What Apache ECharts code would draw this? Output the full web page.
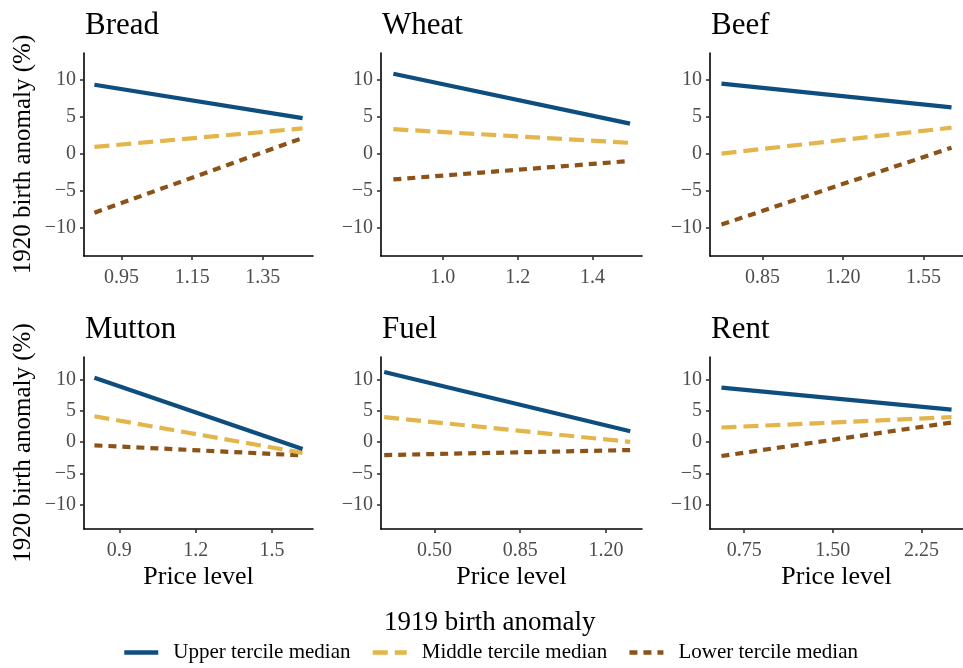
<!DOCTYPE html>
<html><head><meta charset="utf-8">
<script src="https://cdn.jsdelivr.net/npm/echarts@6/dist/echarts.min.js"></script>
<style>html,body{margin:0;padding:0;background:#fff}#c{width:963px;height:668px}</style>
</head><body><div id="c"></div>
<script>
// ---- data ----
const panelNames = ["Bread", "Wheat", "Beef", "Mutton", "Fuel", "Rent"];
const seriesNames = ["Upper tercile median", "Middle tercile median", "Lower tercile median"];

const priceBread = [0.873, 1.463];
const upperBread = [9.3, 4.8];
const middleBread = [0.9, 3.4];
const lowerBread = [-8.0, 2.1];

const priceWheat = [0.868, 1.500];
const upperWheat = [10.8, 4.05];
const middleWheat = [3.3, 1.45];
const lowerWheat = [-3.5, -1.0];

const priceBeef = [0.671, 1.672];
const upperBeef = [9.45, 6.25];
const middleBeef = [0.0, 3.5];
const lowerBeef = [-9.6, 0.8];

const priceMutton = [0.802, 1.62];
const upperMutton = [10.3, -1.1];
const middleMutton = [4.15, -1.7];
const lowerMutton = [-0.5, -2.1];

const priceFuel = [0.295, 1.299];
const upperFuel = [11.2, 1.75];
const middleFuel = [4.0, 0.05];
const lowerFuel = [-2.05, -1.25];

const priceRent = [0.558, 2.505];
const upperRent = [8.7, 5.2];
const middleRent = [2.35, 4.0];
const lowerRent = [-2.2, 3.15];

const xTicksBread = [0.95, 1.15, 1.35];   const xLabelsBread = ["0.95", "1.15", "1.35"];
const xTicksWheat = [1.0, 1.2, 1.4];      const xLabelsWheat = ["1.0", "1.2", "1.4"];
const xTicksBeef = [0.85, 1.20, 1.55];    const xLabelsBeef = ["0.85", "1.20", "1.55"];
const xTicksMutton = [0.9, 1.2, 1.5];     const xLabelsMutton = ["0.9", "1.2", "1.5"];
const xTicksFuel = [0.50, 0.85, 1.20];    const xLabelsFuel = ["0.50", "0.85", "1.20"];
const xTicksRent = [0.75, 1.50, 2.25];    const xLabelsRent = ["0.75", "1.50", "2.25"];

const yTicks = [-10, -5, 0, 5, 10];
const yTickLabels = ["\u221210", "\u22125", "0", "5", "10"];

const yAxisTitle = "1920 birth anomaly (%)";
const xAxisTitle = "Price level";
const legendTitle = "1919 birth anomaly";

// ---- layout / style ----
const panels = [
  {price: priceBread, vals: [upperBread, middleBread, lowerBread], ticks: xTicksBread, labels: xLabelsBread, range: [0.8435, 1.4925]},
  {price: priceWheat, vals: [upperWheat, middleWheat, lowerWheat], ticks: xTicksWheat, labels: xLabelsWheat, range: [0.835, 1.532]},
  {price: priceBeef, vals: [upperBeef, middleBeef, lowerBeef], ticks: xTicksBeef, labels: xLabelsBeef, range: [0.621, 1.722]},
  {price: priceMutton, vals: [upperMutton, middleMutton, lowerMutton], ticks: xTicksMutton, labels: xLabelsMutton, range: [0.761, 1.661]},
  {price: priceFuel, vals: [upperFuel, middleFuel, lowerFuel], ticks: xTicksFuel, labels: xLabelsFuel, range: [0.282, 1.347]},
  {price: priceRent, vals: [upperRent, middleRent, lowerRent], ticks: xTicksRent, labels: xLabelsRent, range: [0.461, 2.602]}
];
const colLeft = [84, 381, 710];
const colWidth = [229, 261, 261];
const rowTop = [53, 357];
const rowHeight = [203, 172];
const yRange = [-13.85, 13.6];
const FONT = "Liberation Serif";
const colors = ["#0E4E7F", "#E3B54B", "#8C5318"];
const dashes = ["solid", [15, 7], [8, 6]];

function pick(ticks, labels, v) {
  let best = 0, bd = Infinity;
  ticks.forEach((t, i) => { const d = Math.abs(t - v); if (d < bd) { bd = d; best = i; } });
  return labels[best];
}

const grid = [], xAxis = [], yAxis = [], series = [], title = [];
panels.forEach((p, i) => {
  const r = Math.floor(i / 3), c = i % 3;
  grid.push({left: colLeft[c], top: rowTop[r], width: colWidth[c], height: rowHeight[r], containLabel: false});
  xAxis.push({
    type: 'value', gridIndex: i, min: p.range[0], max: p.range[1],
    axisLine: {onZero: false, lineStyle: {color: '#000', width: 1.6}},
    axisTick: {show: true, length: 4, customValues: p.ticks, lineStyle: {color: '#333', width: 1.6}},
    axisLabel: {customValues: p.ticks, margin: 12, color: '#4d4d4d', fontFamily: FONT, fontSize: 20,
      formatter: v => pick(p.ticks, p.labels, v)},
    splitLine: {show: false},
    name: r === 1 ? xAxisTitle : '', nameLocation: 'middle', nameGap: 35,
    nameTextStyle: {fontFamily: FONT, fontSize: 26, color: '#000'}
  });
  yAxis.push({
    type: 'value', gridIndex: i, min: yRange[0], max: yRange[1],
    axisLine: {show: true, onZero: false, lineStyle: {color: '#000', width: 1.6}},
    axisTick: {show: true, length: 4, customValues: yTicks, lineStyle: {color: '#333', width: 1.6}},
    axisLabel: {customValues: yTicks, margin: 8, color: '#4d4d4d', fontFamily: FONT, fontSize: 20,
      formatter: v => pick(yTicks, yTickLabels, v)},
    splitLine: {show: false},
    name: c === 0 ? yAxisTitle : '', nameLocation: 'middle', nameGap: 48,
    nameTextStyle: {fontFamily: FONT, fontSize: 25, color: '#000'}
  });
  p.vals.forEach((v, k) => {
    series.push({
      type: 'line', name: seriesNames[k], xAxisIndex: i, yAxisIndex: i,
      data: p.price.map((x, j) => [x, v[j]]),
      symbol: 'none', showSymbol: false, silent: true, animation: false,
      lineStyle: {color: colors[k], width: 4.2, type: dashes[k], cap: 'butt'},
      itemStyle: {color: colors[k]}, z: 3 - k
    });
  });
  title.push({text: panelNames[i], left: colLeft[c] + 1, top: rowTop[r] - 43, padding: 0,
    textStyle: {fontFamily: FONT, fontSize: 31, fontWeight: 'normal', color: '#000'}});
});

const chart = echarts.init(document.getElementById('c'), null, {renderer: 'canvas'});
chart.setOption({
  animation: false,
  backgroundColor: '#fff',
  textStyle: {fontFamily: FONT},
  title: title,
  grid: grid, xAxis: xAxis, yAxis: yAxis, series: series,
  legend: {
    data: seriesNames, left: 122, top: 642, padding: 0, itemWidth: 34, itemHeight: 14, itemGap: 20,
    selectedMode: false,
    itemStyle: {opacity: 0, borderWidth: 0},
    lineStyle: {width: 4.5},
    textStyle: {fontFamily: FONT, fontSize: 21, color: '#000', padding: [0, 0, 0, 10]}
  },
  graphic: [{
    type: 'text', left: 384, top: 609,
    style: {text: legendTitle, fontFamily: FONT, fontSize: 27, fill: '#000'}
  }]
});
</script></body></html>
